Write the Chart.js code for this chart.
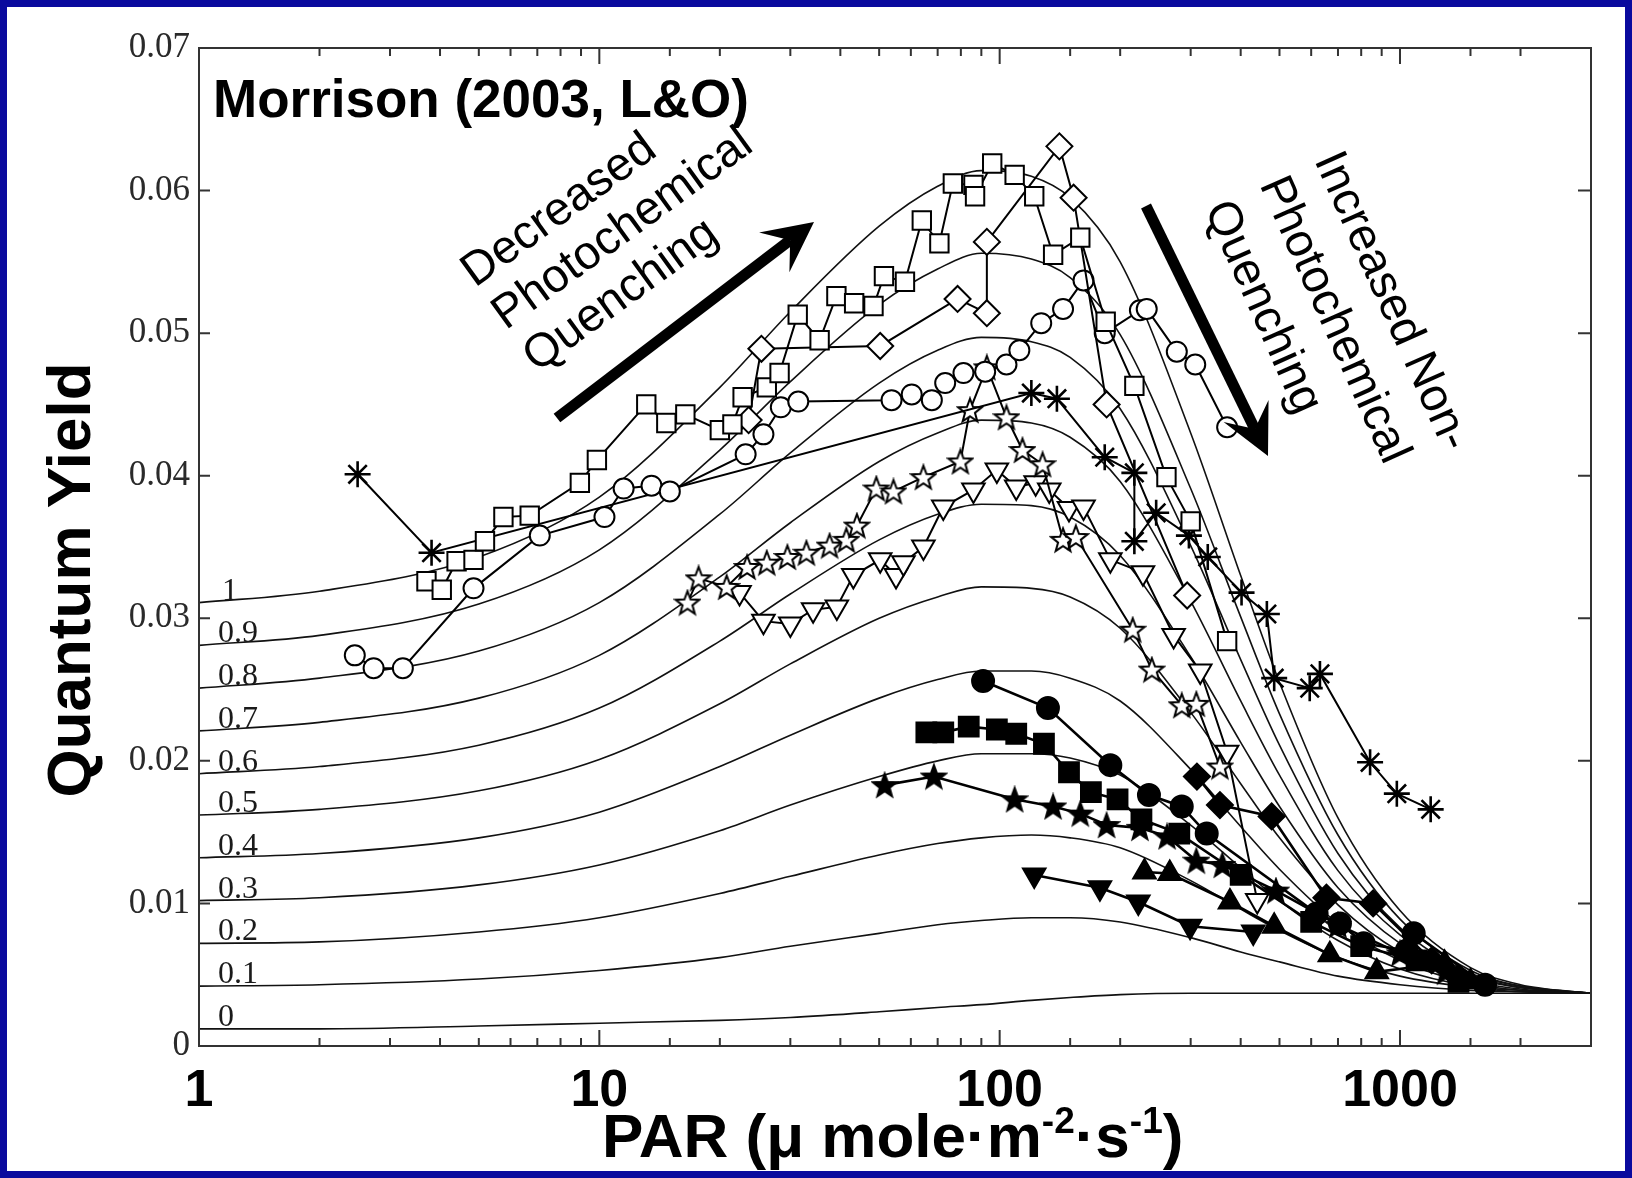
<!DOCTYPE html>
<html lang="en">
<head>
<meta charset="UTF-8">
<title>Quantum Yield vs PAR</title>
<style>
  html, body { margin: 0; padding: 0; background: #fff; }
  #wrap { position: relative; width: 1632px; height: 1178px; }
  #frame { position: absolute; left: 0; top: 0; width: 1632px; height: 1178px; box-sizing: border-box; border: 7px solid #0a0a9e; pointer-events: none; }
</style>
<script src="https://cdn.jsdelivr.net/npm/chart.js"></script>
</head>
<body>
<div id="wrap">
  <canvas id="chart" width="1632" height="1178"></canvas>
  <div id="frame"></div>
</div>
<script>
// model curves (fraction of open reaction centres, 0 .. 1)
const parX = [1, 2, 5, 10, 20, 30, 50, 70, 90, 120, 150, 200, 300, 400, 500, 700, 1000, 1500, 2000, 3000];
const q00 = [0.0012, 0.0012, 0.0014, 0.0016, 0.0018, 0.0020, 0.0024, 0.0027, 0.0029, 0.0032, 0.0034, 0.0036, 0.0037, 0.0037, 0.0037, 0.0037, 0.0037, 0.0037, 0.0037, 0.0037];
const q01 = [0.0042, 0.0043, 0.0047, 0.0053, 0.0062, 0.0070, 0.0079, 0.0085, 0.0088, 0.0090, 0.0090, 0.0087, 0.0076, 0.0066, 0.0059, 0.0049, 0.0043, 0.0039, 0.0038, 0.0037];
const q02 = [0.0072, 0.0073, 0.0080, 0.0090, 0.0107, 0.0119, 0.0134, 0.0142, 0.0146, 0.0148, 0.0146, 0.0139, 0.0116, 0.0096, 0.0081, 0.0062, 0.0049, 0.0041, 0.0038, 0.0037];
const q03 = [0.0102, 0.0104, 0.0113, 0.0127, 0.0151, 0.0169, 0.0189, 0.0200, 0.0205, 0.0205, 0.0202, 0.0190, 0.0155, 0.0125, 0.0102, 0.0074, 0.0054, 0.0042, 0.0039, 0.0037];
const q04 = [0.0132, 0.0135, 0.0146, 0.0164, 0.0196, 0.0218, 0.0244, 0.0257, 0.0263, 0.0263, 0.0258, 0.0242, 0.0194, 0.0154, 0.0124, 0.0086, 0.0060, 0.0044, 0.0039, 0.0037];
const q05 = [0.0162, 0.0166, 0.0179, 0.0201, 0.0240, 0.0268, 0.0300, 0.0315, 0.0322, 0.0321, 0.0315, 0.0293, 0.0234, 0.0184, 0.0146, 0.0099, 0.0066, 0.0046, 0.0040, 0.0037];
const q06 = [0.0191, 0.0196, 0.0211, 0.0237, 0.0284, 0.0317, 0.0355, 0.0373, 0.0380, 0.0379, 0.0371, 0.0344, 0.0273, 0.0213, 0.0168, 0.0111, 0.0072, 0.0048, 0.0041, 0.0037];
const q07 = [0.0221, 0.0227, 0.0244, 0.0274, 0.0329, 0.0367, 0.0410, 0.0430, 0.0439, 0.0437, 0.0427, 0.0396, 0.0312, 0.0242, 0.0190, 0.0123, 0.0078, 0.0050, 0.0041, 0.0037];
const q08 = [0.0251, 0.0258, 0.0277, 0.0311, 0.0373, 0.0416, 0.0465, 0.0488, 0.0497, 0.0494, 0.0483, 0.0447, 0.0351, 0.0271, 0.0211, 0.0135, 0.0083, 0.0051, 0.0042, 0.0037];
const q09 = [0.0281, 0.0288, 0.0310, 0.0348, 0.0418, 0.0466, 0.0520, 0.0545, 0.0556, 0.0552, 0.0539, 0.0499, 0.0391, 0.0301, 0.0233, 0.0148, 0.0089, 0.0053, 0.0042, 0.0037];
const q10 = [0.0311, 0.0319, 0.0343, 0.0385, 0.0462, 0.0515, 0.0575, 0.0603, 0.0614, 0.0610, 0.0595, 0.0550, 0.0430, 0.0330, 0.0255, 0.0160, 0.0095, 0.0055, 0.0043, 0.0037];
const curveVals = [q00, q01, q02, q03, q04, q05, q06, q07, q08, q09, q10];
const curveNames = ['0', '0.1', '0.2', '0.3', '0.4', '0.5', '0.6', '0.7', '0.8', '0.9', '1'];

// observations [PAR, quantum yield]
const openSquares = [[3.7,0.0326],[4.04,0.0320],[4.4,0.0340],[4.85,0.0341],[5.18,0.0354],[5.76,0.0371],[6.7,0.0372],[8.94,0.0395],[9.86,0.0411],[13.1,0.0450],[14.7,0.0437],[16.4,0.0443],[20.0,0.0432],[21.5,0.0436],[22.8,0.0455],[26.2,0.0462],[28.2,0.0472],[31.3,0.0513],[35.5,0.0495],[39.1,0.0526],[43.3,0.0521],[48.4,0.0519],[51.4,0.0540],[58.0,0.0536],[63.9,0.0579],[70.7,0.0563],[76.4,0.0605],[86.0,0.0604],[86.8,0.0596],[95.8,0.0619],[109,0.0611],[122,0.0596],[136,0.0555],[159,0.0567],[184,0.0508],[217,0.0463],[261,0.0399],[300,0.0368],[370,0.0284]];
const openDiamonds = [[23.6,0.0439],[25.4,0.0489],[50.3,0.0491],[78.5,0.0524],[92.9,0.0514],[92.9,0.0564],[141,0.0631],[153,0.0595],[185,0.0450],[294,0.0316]];
const openCircles = [[2.45,0.0274],[2.73,0.0265],[3.23,0.0265],[4.85,0.0321],[7.1,0.0358],[10.3,0.0371],[11.5,0.0391],[13.5,0.0393],[15.0,0.0389],[23.2,0.0415],[25.7,0.0429],[28.4,0.0448],[31.4,0.0452],[53.7,0.0453],[60.3,0.0457],[67.7,0.0453],[73.1,0.0465],[81.2,0.0472],[92,0.0473],[104,0.0478],[112,0.0488],[127,0.0507],[144,0.0517],[162,0.0537],[183,0.0500],[224,0.0516],[233,0.0517],[277,0.0487],[308,0.0478],[370,0.0434]];
const asterisks = [[2.49,0.0401],[3.81,0.0346],[120,0.0458],[139,0.0454],[183,0.0413],[217,0.0402],[217,0.0354],[246,0.0374],[297,0.0358],[331,0.0343],[402,0.0318],[465,0.0303],[485,0.0258],[595,0.0251],[631,0.0261],[842,0.0199],[982,0.0177],[1193,0.0166]];
const openStars = [[16.6,0.0311],[17.7,0.0328],[20.8,0.0322],[23.4,0.0336],[26.2,0.0339],[29.5,0.0343],[32.9,0.0346],[37.6,0.0351],[41.4,0.0355],[44.0,0.0365],[49.2,0.0391],[54.3,0.0389],[64.5,0.0399],[79.8,0.0410],[84.3,0.0446],[92.9,0.0476],[104,0.0441],[114,0.0418],[128,0.0408],[144,0.0355],[155,0.0357],[215,0.0292],[240,0.0264],[285,0.0239],[310,0.0240],[355,0.0196]];
const openTriangles = [[22.4,0.0318],[25.7,0.0298],[30.0,0.0296],[34.2,0.0306],[39.2,0.0308],[43.1,0.0330],[50.3,0.0341],[55.1,0.0330],[57.5,0.0339],[64.5,0.0350],[72.3,0.0378],[86.0,0.0390],[98.4,0.0404],[110,0.0392],[123,0.0395],[133,0.0390],[149,0.0377],[162,0.0378],[189,0.0341],[228,0.0332],[272,0.0288],[317,0.0263],[370,0.0206],[440,0.0102]];
const filledCircles = [[90.9,0.0256],[132,0.0237],[189,0.0197],[236,0.0176],[285,0.0168],[329,0.0149],[619,0.0093],[708,0.0086],[811,0.0072],[1040,0.0067],[1082,0.0079],[1631,0.0043]];
const filledSquares = [[65.6,0.0220],[72.3,0.0220],[83.7,0.0224],[98.4,0.0222],[110,0.0219],[129,0.0212],[149,0.0192],[169,0.0178],[197,0.0173],[226,0.0159],[281,0.0149],[400,0.0120],[600,0.0087],[800,0.0070],[1100,0.0060],[1400,0.0045]];
const filledStars = [[51.6,0.0183],[68.5,0.0189],[109,0.0173],[136,0.0168],[159,0.0163],[185,0.0155],[224,0.0153],[262,0.0147],[310,0.0130],[360,0.0127],[490,0.0109],[700,0.0085],[1000,0.0065],[1300,0.0052]];
const filledDownTriangles = [[122,0.0120],[178,0.0111],[222,0.0101],[299,0.0084],[430,0.0080]];
const filledUpTriangles = [[230,0.0122],[266,0.0121],[376,0.0101],[485,0.0084],[668,0.0064],[875,0.0052],[1292,0.0058],[1500,0.0045]];
const filledDiamonds = [[311,0.0189],[355,0.0169],[478,0.0161],[655,0.0104],[857,0.0100],[1200,0.0060],[1400,0.0048]];

const xTickLabels = [1, 10, 100, 1000];

const SANS = '"Liberation Sans", Arial, sans-serif';
const SERIF = '"Liberation Serif", "Times New Roman", serif';

function makeStar(filled) {
  const c = document.createElement('canvas');
  c.width = 28; c.height = 28;
  const g = c.getContext('2d');
  g.beginPath();
  for (let i = 0; i < 10; i++) {
    const r = i % 2 ? 5.2 : 12.5;
    const a = -Math.PI / 2 + i * Math.PI / 5;
    g.lineTo(14 + r * Math.cos(a), 15 + r * Math.sin(a));
  }
  g.closePath();
  g.fillStyle = filled ? '#000' : '#fff';
  g.fill();
  g.lineWidth = 2;
  g.strokeStyle = '#000';
  g.stroke();
  return c;
}

function markers(data, style, filled, radius, extra) {
  return Object.assign({
    data: data.map(p => ({ x: p[0], y: p[1] })),
    showLine: true,
    borderColor: '#000',
    borderWidth: filled ? 2.6 : 2,
    pointStyle: style,
    pointRadius: radius,
    pointBackgroundColor: filled ? '#000' : '#fff',
    pointBorderColor: '#000',
    pointBorderWidth: 2,
    order: 1
  }, extra || {});
}

const curveSets = curveVals.map(vals => ({
  data: parX.map((x, i) => ({ x: x, y: vals[i] })),
  showLine: true,
  borderColor: '#111',
  borderWidth: 1.6,
  pointRadius: 0,
  cubicInterpolationMode: 'monotone',
  order: 5
}));

const isDecade = v => Math.abs(Math.log10(v) - Math.round(Math.log10(v))) < 1e-9;

function arrow(ctx, x1, y1, x2, y2) {
  const dx = x2 - x1, dy = y2 - y1, len = Math.hypot(dx, dy);
  const ux = dx / len, uy = dy / len, nx = -uy, ny = ux;
  const hl = 50, hw = 25, notch = 30;
  ctx.lineWidth = 11;
  ctx.beginPath();
  ctx.moveTo(x1, y1);
  ctx.lineTo(x2 - ux * notch, y2 - uy * notch);
  ctx.stroke();
  ctx.beginPath();
  ctx.moveTo(x2, y2);
  ctx.lineTo(x2 - ux * hl + nx * hw, y2 - uy * hl + ny * hw);
  ctx.lineTo(x2 - ux * notch, y2 - uy * notch);
  ctx.lineTo(x2 - ux * hl - nx * hw, y2 - uy * hl - ny * hw);
  ctx.closePath();
  ctx.fill();
}

function textBlock(ctx, lines, x, y, angleDeg, step) {
  const a = angleDeg * Math.PI / 180;
  ctx.save();
  ctx.translate(x, y);
  ctx.rotate(a);
  ctx.textAlign = 'left';
  ctx.textBaseline = 'alphabetic';
  lines.forEach((t, i) => ctx.fillText(t, 0, i * step));
  ctx.restore();
}

const decor = {
  id: 'decor',
  afterDraw(chart) {
    const { ctx, chartArea: a, scales: { x, y } } = chart;
    ctx.save();
    ctx.strokeStyle = '#333';
    ctx.fillStyle = '#000';
    ctx.lineWidth = 2;
    ctx.strokeRect(a.left, a.top, a.right - a.left, a.bottom - a.top);
    ctx.beginPath();
    x.ticks.forEach(t => {
      const px = x.getPixelForValue(t.value);
      const len = isDecade(t.value) ? 16 : 8;
      ctx.moveTo(px, a.bottom); ctx.lineTo(px, a.bottom - len);
      ctx.moveTo(px, a.top); ctx.lineTo(px, a.top + len);
    });
    y.ticks.forEach(t => {
      const py = y.getPixelForValue(t.value);
      ctx.moveTo(a.left, py); ctx.lineTo(a.left + 11, py);
      ctx.moveTo(a.right, py); ctx.lineTo(a.right - 13, py);
    });
    ctx.stroke();

    // curve labels
    ctx.fillStyle = '#1a1a1a';
    ctx.font = '32px ' + SERIF;
    ctx.textAlign = 'left';
    ctx.textBaseline = 'alphabetic';
    curveVals.forEach((vals, i) => {
      const px = x.getPixelForValue(parX[0]) + (curveNames[i] === '1' ? 23 : 19);
      ctx.fillText(curveNames[i], px, y.getPixelForValue(vals[0]) - 3);
    });

    ctx.fillStyle = '#000';
    ctx.strokeStyle = '#000';
    // title
    ctx.font = 'bold 53px ' + SANS;
    ctx.fillText('Morrison (2003, L&O)', 213, 117);

    // annotations
    ctx.font = '47px ' + SANS;
    textBlock(ctx, ['Decreased', 'Photochemical', 'Quenching'], 475, 288, -36, 52.5);
    textBlock(ctx, ['Increased Non-', 'Photochemical', 'Quenching'], 1314, 160, 66, 60);
    arrow(ctx, 557, 418, 814, 222);
    arrow(ctx, 1146, 206, 1268, 456);

    // axis titles
    ctx.font = 'bold 62px ' + SANS;
    ctx.save();
    ctx.translate(90, 580);
    ctx.rotate(-Math.PI / 2);
    ctx.textAlign = 'center';
    ctx.fillText('Quantum Yield', 0, 0);
    ctx.restore();

    const big = 'bold 62px ' + SANS, small = 'bold 37px ' + SANS;
    const parts = [['PAR (\u03bc mole\u00b7m', big, 0], ['-2', small, -24], ['\u00b7s', big, 0], ['-1', small, -24], [')', big, 0]];
    let tx = 602;
    ctx.textAlign = 'left';
    parts.forEach(p => {
      ctx.font = p[1];
      ctx.fillText(p[0], tx, 1157 + p[2]);
      tx += ctx.measureText(p[0]).width;
    });
    ctx.restore();
  }
};

new Chart(document.getElementById('chart'), {
  type: 'scatter',
  data: {
    datasets: [
      markers(openSquares, 'rect', false, 13),
      markers(openDiamonds, 'rectRot', false, 13),
      markers(openCircles, 'circle', false, 10),
      markers(asterisks, 'star', false, 13, { pointBorderWidth: 2.6 }),
      markers(openStars, makeStar(false), false, 12),
      markers(openTriangles, 'triangle', false, 13, { pointRotation: 180 }),
      markers(filledCircles, 'circle', true, 11),
      markers(filledSquares, 'rect', true, 14),
      markers(filledStars, makeStar(true), true, 12),
      markers(filledDownTriangles, 'triangle', true, 13, { pointRotation: 180 }),
      markers(filledUpTriangles, 'triangle', true, 13),
      markers(filledDiamonds, 'rectRot', true, 13)
    ].concat(curveSets)
  },
  options: {
    responsive: false,
    animation: false,
    layout: { padding: { top: 48, right: 41, left: 0, bottom: 0 } },
    plugins: { legend: { display: false }, tooltip: { enabled: false } },
    scales: {
      x: {
        type: 'logarithmic',
        min: 1,
        max: 3000,
        grid: { display: false, drawTicks: false },
        border: { display: false },
        ticks: {
          autoSkip: false,
          maxRotation: 0,
          padding: 14,
          color: '#000',
          font: { family: SANS, size: 52, weight: 'bold' },
          callback: v => (xTickLabels.includes(Math.round(v)) && isDecade(v) ? String(Math.round(v)) : '')
        },
        afterFit: s => { s.height = 132; }
      },
      y: {
        min: 0,
        max: 0.07,
        grid: { display: false, drawTicks: false },
        border: { display: false },
        ticks: {
          stepSize: 0.01,
          padding: 9,
          color: '#2a2a2a',
          font: { family: SERIF, size: 35 },
          callback: v => (Math.abs(v) < 1e-9 ? '0' : v.toFixed(2))
        },
        afterFit: s => { s.width = 199; }
      }
    }
  },
  plugins: [decor]
});
</script>
</body>
</html>
